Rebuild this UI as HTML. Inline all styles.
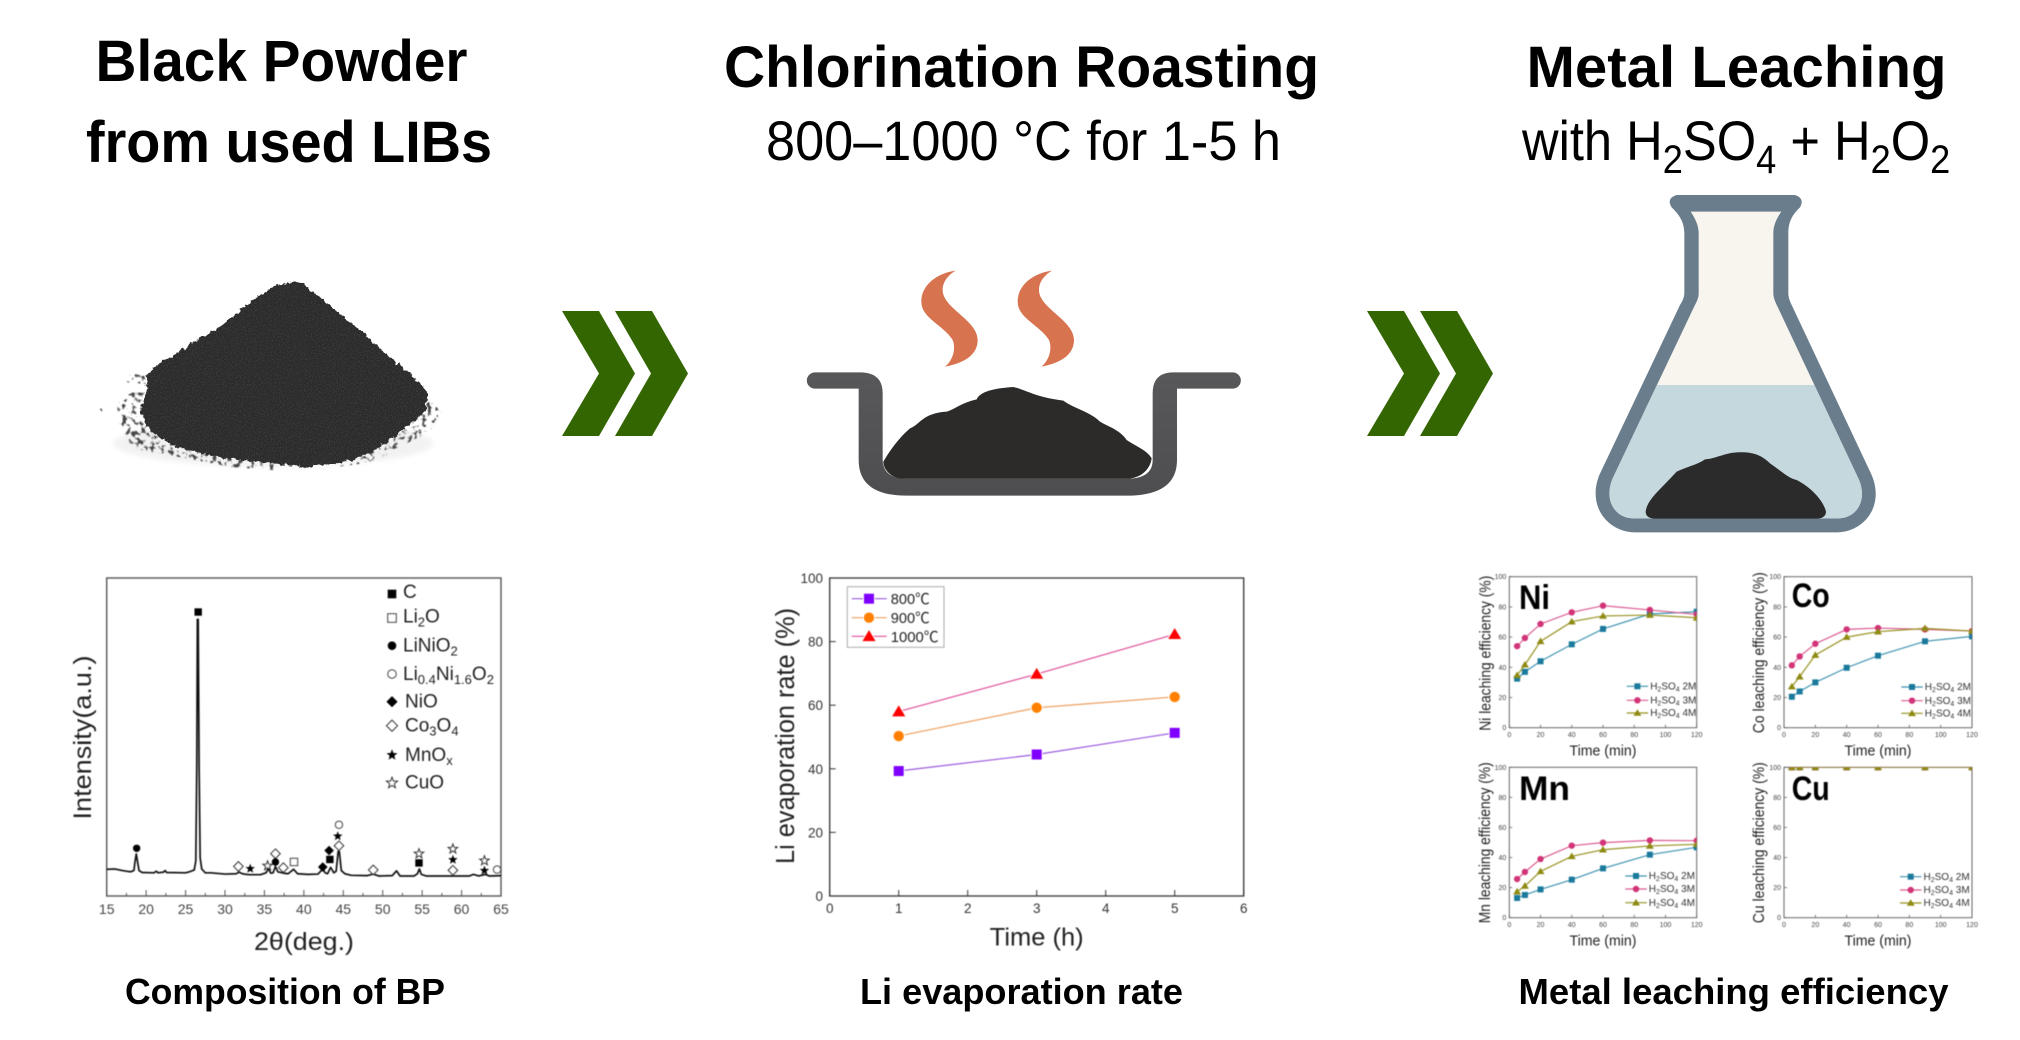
<!DOCTYPE html>
<html lang="en">
<head>
<meta charset="utf-8">
<title>Black powder chlorination roasting and metal leaching</title>
<style>
html,body{margin:0;padding:0;background:#fff;}
svg{display:block;}
text{font-family:"Liberation Sans","Noto Sans CJK SC",sans-serif;fill:#000;}
.soft{filter:blur(.45px);}
</style>
</head>
<body>
<svg id="figure" xmlns="http://www.w3.org/2000/svg" width="2020" height="1040" viewBox="0 0 2020 1040">
<defs>
<filter id="grain" x="-5%" y="-5%" width="110%" height="110%" color-interpolation-filters="sRGB">
<feTurbulence type="fractalNoise" baseFrequency="0.07" numOctaves="3" seed="4" result="edge"/>
<feDisplacementMap in="SourceGraphic" in2="edge" scale="20" xChannelSelector="R" yChannelSelector="G" result="shape"/>
<feTurbulence type="fractalNoise" baseFrequency="0.28" numOctaves="3" seed="9" result="n"/>
<feColorMatrix in="n" type="matrix" values="0 0 0 0 .36  0 0 0 0 .36  0 0 0 0 .36  1.5 0 0 0 -.68" result="specks"/>
<feComposite in="specks" in2="shape" operator="in" result="clipped"/>
<feMerge><feMergeNode in="shape"/><feMergeNode in="clipped"/></feMerge>
</filter>
<filter id="dust" x="-10%" y="-20%" width="120%" height="140%"><feGaussianBlur stdDeviation="7"/></filter>
<filter id="debris-soft" x="-5%" y="-5%" width="110%" height="110%" color-interpolation-filters="sRGB">
<feTurbulence type="fractalNoise" baseFrequency="0.07" numOctaves="2" seed="3" result="n"/>
<feColorMatrix in="n" type="matrix" values="0 0 0 0 0  0 0 0 0 0  0 0 0 0 0  7 0 0 0 -3.7" result="m"/>
<feComposite in="SourceGraphic" in2="m" operator="in" result="s"/>
<feGaussianBlur in="s" stdDeviation="1.6"/>
</filter>
<linearGradient id="pot-metal" x1="0" y1="0" x2="0" y2="1"><stop offset="0" stop-color="#58585a"/><stop offset="1" stop-color="#4e4e50"/></linearGradient>
<clipPath id="liquid-clip"><rect x="0" y="645" width="1020" height="500"/></clipPath>
</defs>
<rect width="2020" height="1040" fill="#fff"/>

<g>
<text x="95.500" y="81" font-size="58" font-weight="700" textLength="372" lengthAdjust="spacingAndGlyphs">Black Powder</text>
<text x="86" y="162" font-size="58" font-weight="700" textLength="406" lengthAdjust="spacingAndGlyphs">from used LIBs</text>
<text x="724" y="87" font-size="58" font-weight="700" textLength="595" lengthAdjust="spacingAndGlyphs">Chlorination Roasting</text>
<text x="766" y="160" font-size="56" textLength="515" lengthAdjust="spacingAndGlyphs">800–1000 °C for 1-5 h</text>
<text x="1526.500" y="87" font-size="58" font-weight="700" textLength="420" lengthAdjust="spacingAndGlyphs">Metal Leaching</text>
<text transform="translate(1522,160) scale(.905,1)" font-size="56">with H<tspan font-size="40" dy="13">2</tspan><tspan dy="-13">SO</tspan><tspan font-size="40" dy="13">4</tspan><tspan dy="-13"> + H</tspan><tspan font-size="40" dy="13">2</tspan><tspan dy="-13">O</tspan><tspan font-size="40" dy="13">2</tspan></text>
</g>

<g transform="translate(60,240) scale(.33333)">
<ellipse cx="640" cy="610" rx="480" ry="70" fill="#e6e6e6" opacity=".5" filter="url(#dust)"/>
<g fill="#444" filter="url(#debris-soft)">
<path d="M170,490 L260,450 L300,600 L500,650 L640,670 L640,690 L520,682 L380,655 L215,625 L180,560Z"/>
<path d="M760,690 L880,670 L1040,560 L1110,480 L1145,518 L1110,575 L1010,625 L950,665Z"/>
<path d="M190,420 L215,400 L262,410 L262,432 L205,428Z"/>
<path d="M195,460 L262,450 L262,480 L215,470Z"/>
<path d="M118,505 L142,510 L128,518Z"/>
</g>
<path filter="url(#grain)" fill="#2a2a2a" d="M700,124 L640,140 L580,180 L480,260 L340,345 L295,372 L258,405 L262,450 L250,480 L240,510 Q250,545 270,570 Q320,610 380,630 Q440,648 500,655 L640,670 L730,680 Q800,678 860,665 Q910,650 950,625 Q1000,595 1040,560 L1095,515 L1105,460 L1060,410 L1000,360 L900,270 L800,190 L730,130Z"/>
</g>

<g transform="translate(780,240) scale(.33333)">
<path fill="#d8734f" d="M527,92 C470,100 424,135 424,185 C424,235 490,255 518,300 C530,330 515,365 495,380 C560,368 593,340 593,300 C593,240 488,205 488,150 C488,125 505,105 527,92Z"/>
<path fill="#d8734f" transform="translate(289,0)" d="M527,92 C470,100 424,135 424,185 C424,235 490,255 518,300 C530,330 515,365 495,380 C560,368 593,340 593,300 C593,240 488,205 488,150 C488,125 505,105 527,92Z"/>
<path fill="url(#pot-metal)" d="M105,397 H240 Q308,397 308,460 V660 Q310,716 380,716 H1040 Q1118,716 1118,660 V460 Q1118,397 1180,397 H1358 A24.500,24.500 0 0 1 1358,446 H1191 V660 Q1191,767 1040,767 H380 Q236,767 236,660 V446 H105 A24.500,24.500 0 0 1 105,397Z"/>
<path fill="#2d2b29" d="M310,665 C330,630 360,590 390,565 C420,555 425,520 500,515 C530,505 540,490 590,478 C600,455 640,445 700,441 C740,450 760,470 850,482 C880,505 930,515 960,545 C985,560 1020,570 1040,600 C1070,620 1100,630 1115,655 C1110,690 1080,716 1040,716 H370 C335,716 310,690 310,665Z"/>
</g>

<g transform="translate(1580,170) scale(.33333)">
<path fill="#6a7d8c" d="M290,75 H645 Q675,85 660,112 C630,140 625,165 625,190 V370 Q625,385 635,405 L875,915 C915,1010 850,1087 770,1087 H165 C85,1087 20,1010 58,915 L300,405 Q313,385 313,370 V190 C313,165 305,140 275,112 Q258,85 290,75Z"/>
<path fill="#f8f5ef" d="M332,125 H604 C590,145 580,165 580,190 V370 C580,385 588,400 595,415 L835,925 C865,990 830,1045 775,1045 H160 C105,1045 70,990 98,925 L340,415 C350,395 356,385 356,370 V190 C356,165 345,145 332,125Z"/>
<path fill="#c5d8de" clip-path="url(#liquid-clip)" d="M332,125 H604 C590,145 580,165 580,190 V370 C580,385 588,400 595,415 L835,925 C865,990 830,1045 775,1045 H160 C105,1045 70,990 98,925 L340,415 C350,395 356,385 356,370 V190 C356,165 345,145 332,125Z"/>
<path fill="#2b2b2b" d="M197,1025 C200,990 240,960 290,905 C320,890 350,885 375,868 C410,865 430,850 470,847 C510,845 540,850 570,880 C600,900 625,925 650,930 C690,950 730,990 738,1025 C738,1040 725,1046 710,1046 H225 C210,1046 197,1040 197,1025Z"/>
</g>

<g fill="#336600">
<polygon points="562,311 599,311 635,373.500 599,436 562,436 599,373.500"/>
<polygon points="615,311 652,311 688,373.500 652,436 615,436 651,373.500"/>
</g>
<g fill="#336600" transform="translate(805,0)">
<polygon points="562,311 599,311 635,373.500 599,436 562,436 599,373.500"/>
<polygon points="615,311 652,311 688,373.500 652,436 615,436 651,373.500"/>
</g>

<g>
<text x="125" y="1004" font-size="36" font-weight="700" textLength="320" lengthAdjust="spacingAndGlyphs">Composition of BP</text>
<text x="860" y="1004" font-size="36" font-weight="700" textLength="323" lengthAdjust="spacingAndGlyphs">Li evaporation rate</text>
<text x="1518.500" y="1004" font-size="36" font-weight="700" textLength="430" lengthAdjust="spacingAndGlyphs">Metal leaching efficiency</text>
</g>

<g id="xrd-chart" class="soft"></g>
<g id="evap-chart" class="soft"></g>
<g id="leach-charts" class="soft"></g>
</svg>

<script>
/* ---------- XRD data ---------- */
const xrdTicks = [15,20,25,30,35,40,45,50,55,60,65];
const xrdTheta = [15,16,17,18,18.45,18.6,18.75,18.9,19.1,19.5,21,21.3,21.5,22.2,22.4,22.6,25,25.6,26.1,26.3,26.42,26.5,26.6,26.72,26.85,27.05,27.5,28.2,30,31.4,31.8,32.2,33,34.5,35.2,35.5,35.8,36.1,36.4,36.7,37.4,38,38.7,39.2,40.5,41.8,42.4,42.7,43,43.4,43.8,44.1,44.35,44.5,44.75,45.2,46,48,48.8,49.5,51.2,51.75,52.2,54,54.4,54.65,54.9,55.5,57.5,59,61,61.5,62.2,63,63.5,65];
const xrdIntensity = [8.4,8.5,8,7.6,8,11,13.2,11,8,7.4,7.3,7.8,7.3,7.5,8,7.4,7.3,7.7,8.2,11,40,87,87,40,12,8.5,7.3,7.3,6.9,7,7.5,7,6.7,6.7,7.3,8.6,7.2,7.3,9.3,7.6,7.2,7,8.4,7,6.8,6.9,8.5,7.3,7,9,7.3,7.8,14,14,8,7,6.5,6.4,6.9,6.3,6.4,7.9,6.3,6.3,7,8.5,6.8,6.3,6.3,6.3,6.3,6.8,6.3,6.8,6.3,6.4];
const xrdMarkerTheta = [26.6,18.8,31.7,33.2,35.4,36.4,36.4,37.4,38.75,42.4,43.2,43.3,44.45,44.3,44.45,48.8,54.6,54.6,58.9,58.9,58.9,62.9,62.9,64.5];
const xrdMarkerIntensity = [89.3,15,9.3,8.6,9.5,13.3,10.7,8.9,10.7,9.1,14.3,11.5,22.4,18.8,15.8,8.2,13.3,10.4,14.8,11.4,8.1,11.1,8,8.3];
const xrdMarkerPhase = ['C','LiNiO2','Co3O4','MnOx','CuO','Co3O4','LiNiO2','Co3O4','Li2O','NiO','NiO','C','Li0.4Ni1.6O2','MnOx','Co3O4','Co3O4','CuO','C','CuO','MnOx','Co3O4','CuO','MnOx','Li0.4Ni1.6O2'];

/* ---------- Li evaporation data ---------- */
const evapTime = [1,3,5];
const evap800 = [39.3,44.5,51.3];
const evap900 = [50.3,59.2,62.6];
const evap1000 = [58,69.8,82.3];
const evapXTicks = [0,1,2,3,4,5,6];
const evapYTicks = [0,20,40,60,80,100];
const evapLabels = ['800℃','900℃','1000℃'];

/* ---------- Leaching data ---------- */
const leachTime = [5,10,20,40,60,90,120];
const ni2M = [32.5,37,44,55.2,65.4,75.3,76.8];
const ni3M = [54,59.4,68.7,76.4,80.8,78,75];
const ni4M = [34.7,41.7,57.2,70.2,74,74.6,72.8];
const co2M = [20.5,24,30,39.7,47.7,57.2,60.5];
const co3M = [41.3,47.2,55.6,65.1,66,65.1,64];
const co4M = [27.2,33.8,48.1,60,63.6,65.8,64];
const mn2M = [13.1,15.1,18.8,25.3,32.8,41.9,46.8];
const mn3M = [25.7,30.4,39,47.9,49.9,51.4,51.2];
const mn4M = [17.3,21.1,30.8,40.8,45.2,47.7,48.8];
const cu2M = [100,100,100,100,100,100,100];
const cu3M = [100,100,100,100,100,100,100];
const cu4M = [100,100,100,100,100,100,100];
const leachXTicks = [0,20,40,60,80,100,120];
const leachYTicks = [0,20,40,60,80,100];
const leachConc = ['2M','3M','4M'];

const NS = 'http://www.w3.org/2000/svg';
function mk(tag, attrs, parent) {
  const e = document.createElementNS(NS, tag);
  for (const k in attrs) e.setAttribute(k, attrs[k]);
  parent.appendChild(e);
  return e;
}
function starPts(cx, cy, r) {
  const p = [];
  for (let i = 0; i < 10; i++) {
    const rr = i % 2 ? r * 0.42 : r;
    const a = -Math.PI / 2 + i * Math.PI / 5;
    p.push((cx + rr * Math.cos(a)).toFixed(2) + ',' + (cy + rr * Math.sin(a)).toFixed(2));
  }
  return p.join(' ');
}
function shape(kind, cx, cy, r, style, parent) {
  if (kind === 'square') return mk('rect', Object.assign({x: cx - r, y: cy - r, width: 2 * r, height: 2 * r}, style), parent);
  if (kind === 'circle') return mk('circle', Object.assign({cx: cx, cy: cy, r: r}, style), parent);
  if (kind === 'triangle') return mk('polygon', Object.assign({points: (cx) + ',' + (cy - r * 1.15) + ' ' + (cx + r * 1.2) + ',' + (cy + r * 0.85) + ' ' + (cx - r * 1.2) + ',' + (cy + r * 0.85)}, style), parent);
  if (kind === 'diamond') return mk('polygon', Object.assign({points: cx + ',' + (cy - r * 1.3) + ' ' + (cx + r * 1.3) + ',' + cy + ' ' + cx + ',' + (cy + r * 1.3) + ' ' + (cx - r * 1.3) + ',' + cy}, style), parent);
  return mk('polygon', Object.assign({points: starPts(cx, cy, r * 1.35)}, style), parent);
}
const phaseStyle = {
  'C': ['square', '#000', 'none'],
  'Li2O': ['square', '#fff', '#444'],
  'LiNiO2': ['circle', '#000', 'none'],
  'Li0.4Ni1.6O2': ['circle', '#fff', '#444'],
  'NiO': ['diamond', '#000', 'none'],
  'Co3O4': ['diamond', '#fff', '#333'],
  'MnOx': ['star', '#000', 'none'],
  'CuO': ['star', '#fff', '#333']
};

/* ---------- XRD chart ---------- */
(function () {
  const g = document.getElementById('xrd-chart');
  const L = 106.7, R = 501, T = 578, B = 896;
  const sx = v => L + (v - 15) / 50 * (R - L);
  const sy = v => B - v / 100 * (B - T);
  const frame = mk('rect', {x: L, y: T, width: R - L, height: B - T, fill: '#fff', stroke: '#555', 'stroke-width': 1.4}, g);
  
  
  for (let v = 17.5; v <= 62.5; v += 5) {
    const m = mk('line', {x1: sx(v), x2: sx(v), y1: B, y2: B - 3, stroke: '#555', 'stroke-width': 1}, g);
    
    
  }
  xrdTicks.forEach(v => {
    const t = mk('line', {x1: sx(v), x2: sx(v), y1: B, y2: B - 6, stroke: '#555', 'stroke-width': 1}, g);
    
    
    const l = mk('text', {x: sx(v), y: 914, 'font-size': 14, 'text-anchor': 'middle', style: 'fill:#444'}, g);
    
    
    l.textContent = v;
  });
  const d = xrdTheta.map((v, i) => (i ? 'L' : 'M') + sx(v).toFixed(2) + ',' + sy(xrdIntensity[i]).toFixed(2)).join(' ');
  const line = mk('path', {d: d, fill: 'none', stroke: '#111', 'stroke-width': 1.7, 'stroke-linejoin': 'round'}, g);
  
  
  xrdMarkerTheta.forEach((v, i) => {
    const s = phaseStyle[xrdMarkerPhase[i]];
    const m = shape(s[0], sx(v), sy(xrdMarkerIntensity[i]), 3.7, {fill: s[1], stroke: s[2], 'stroke-width': 1}, g);
    
    
  });
  const xt = mk('text', {x: 304, y: 950, 'font-size': 25, 'text-anchor': 'middle', textLength: 100, lengthAdjust: 'spacingAndGlyphs', style: 'fill:#222'}, g);
  
  
  xt.textContent = '2θ(deg.)';
  const yt = mk('text', {transform: 'translate(91,819.5) rotate(-90)', 'font-size': 25, textLength: 164, lengthAdjust: 'spacingAndGlyphs', style: 'fill:#222'}, g);
  
  
  yt.textContent = 'Intensity(a.u.)';
  const sub = (c) => '<tspan font-size="13" dy="4">' + c + '</tspan><tspan dy="-4">\u200b</tspan>';
  const legend = [
    ['C', 392, 594, 403, 'C', 598],
    ['Li2O', 392, 618, 403, 'Li' + sub('2') + 'O', 622.7],
    ['LiNiO2', 392, 645.7, 403, 'LiNiO' + sub('2'), 651.7],
    ['Li0.4Ni1.6O2', 392, 674, 403, 'Li' + sub('0.4') + 'Ni' + sub('1.6') + 'O' + sub('2'), 680],
    ['NiO', 392, 701.7, 405, 'NiO', 707.7],
    ['Co3O4', 392, 725.7, 405, 'Co' + sub('3') + 'O' + sub('4'), 731.7],
    ['MnOx', 392, 755, 405, 'MnO' + sub('x'), 761],
    ['CuO', 392, 783, 405, 'CuO', 788.7]
  ];
  legend.forEach(e => {
    const s = phaseStyle[e[0]];
    const m = shape(s[0], e[1], e[2], 4.3, {fill: s[1], stroke: s[2], 'stroke-width': 1}, g);
    
    
    const t = mk('text', {x: e[3], y: e[5], 'font-size': 19, style: 'fill:#222'}, g);
    
    
    t.innerHTML = e[4];
  });
})();

/* ---------- Li evaporation chart ---------- */
(function () {
  const g = document.getElementById('evap-chart');
  const L = 829.7, R = 1243.7, T = 578, B = 896;
  const sx = v => L + v / 6 * (R - L);
  const sy = v => B - v / 100 * (B - T);
  const frame = mk('rect', {x: L, y: T, width: R - L, height: B - T, fill: '#fff', stroke: '#333', 'stroke-width': 1.3}, g);
  
  
  evapXTicks.forEach(v => {
    const t = mk('line', {x1: sx(v), x2: sx(v), y1: B, y2: B - 6, stroke: '#333', 'stroke-width': 1}, g);
    
    
    const l = mk('text', {x: sx(v), y: 913, 'font-size': 13.5, 'text-anchor': 'middle', style: 'fill:#333'}, g);
    
    
    l.textContent = v;
  });
  evapYTicks.forEach(v => {
    const t = mk('line', {x1: L, x2: L + 6, y1: sy(v), y2: sy(v), stroke: '#333', 'stroke-width': 1}, g);
    
    
    const l = mk('text', {x: 823, y: sy(v) + 5, 'font-size': 13.5, 'text-anchor': 'end', style: 'fill:#333'}, g);
    
    
    l.textContent = v;
  });
  const series = [
    [evap800, 'square', '#8000ff', '#9c5ae0', 5.5],
    [evap900, 'circle', '#ff8000', '#eea060', 5.7],
    [evap1000, 'triangle', '#ff0000', '#e0509a', 6.2]
  ];
  series.forEach((s, k) => {
    const d = evapTime.map((v, i) => (i ? 'L' : 'M') + sx(v).toFixed(2) + ',' + sy(s[0][i]).toFixed(2)).join(' ');
    const p = mk('path', {d: d, fill: 'none', stroke: s[3], 'stroke-width': 1.2}, g);
    
    
    evapTime.forEach((v, i) => {
      const m = shape(s[1], sx(v), sy(s[0][i]), s[4], {fill: s[2], stroke: '#fff', 'stroke-width': 1}, g);
      
      
    });
  });
  const box = mk('rect', {x: 847.3, y: 586.7, width: 96.7, height: 60.6, fill: '#fff', stroke: '#aaa', 'stroke-width': 1}, g);
  
  
  const legendY = [598.7, 617.7, 636.3];
  evapLabels.forEach((lab, k) => {
    const s = series[k];
    const ln = mk('line', {x1: 851.7, x2: 886.7, y1: legendY[k], y2: legendY[k], stroke: s[3], 'stroke-width': 1.2}, g);
    
    
    const m = shape(s[1], 869, legendY[k], s[4], {fill: s[2], stroke: '#fff', 'stroke-width': 1}, g);
    
    
    const t = mk('text', {x: 890.7, y: legendY[k] + 5.5, 'font-size': 15, textLength: k === 2 ? 48 : 39, lengthAdjust: 'spacingAndGlyphs', style: 'fill:#222'}, g);
    
    
    t.textContent = lab;
  });
  const xt = mk('text', {x: 1036.7, y: 945.7, 'font-size': 25, 'text-anchor': 'middle', textLength: 94, lengthAdjust: 'spacingAndGlyphs', style: 'fill:#222'}, g);
  
  
  xt.textContent = 'Time (h)';
  const yt = mk('text', {transform: 'translate(794,864) rotate(-90)', 'font-size': 25.5, textLength: 256, lengthAdjust: 'spacingAndGlyphs', style: 'fill:#222'}, g);
  
  
  yt.textContent = 'Li evaporation rate (%)';
})();

/* ---------- Leaching panels ---------- */
function drawPanel(cfg) {
  const root = document.getElementById('leach-charts');
  const g = mk('g', {}, root);
  
  
  const L = cfg.L, R = cfg.R, T = cfg.T, B = cfg.B;
  const sx = v => L + v / 120 * (R - L);
  const sy = v => B - v / 100 * (B - T);
  const clip = mk('clipPath', {id: 'clip-' + cfg.key}, g);
  mk('rect', {x: L, y: T, width: R - L, height: B - T}, clip);
  const frame = mk('rect', {x: L, y: T, width: R - L, height: B - T, fill: '#fff', stroke: '#666', 'stroke-width': 1}, g);
  
  
  leachXTicks.forEach(v => {
    const t = mk('line', {x1: sx(v), x2: sx(v), y1: B, y2: B - 3, stroke: '#666', 'stroke-width': .8}, g);
    
    
    const l = mk('text', {x: sx(v), y: B + 9.5, 'font-size': 7, 'text-anchor': 'middle', style: 'fill:#444'}, g);
    
    
    l.textContent = v;
  });
  leachYTicks.forEach(v => {
    const t = mk('line', {x1: L, x2: L + 3, y1: sy(v), y2: sy(v), stroke: '#666', 'stroke-width': .8}, g);
    
    
    const l = mk('text', {x: L - 3, y: sy(v) + 2.5, 'font-size': 7, 'text-anchor': 'end', style: 'fill:#444'}, g);
    
    
    l.textContent = v;
  });
  const styles = [['square', '#1b7a9c', '#3f93b0', 3], ['circle', '#d23478', '#dc5c92', 3.2], ['triangle', '#8e8a12', '#96921f', 3.3]];
  const plot = mk('g', {'clip-path': 'url(#clip-' + cfg.key + ')'}, g);
  
  
  cfg.series.forEach((vals, k) => {
    const st = styles[k];
    const d = leachTime.map((v, i) => (i ? 'L' : 'M') + sx(v).toFixed(2) + ',' + sy(vals[i]).toFixed(2)).join(' ');
    const p = mk('path', {d: d, fill: 'none', stroke: st[2], 'stroke-width': 1.2}, plot);
    
    
    leachTime.forEach((v, i) => {
      const m = shape(st[0], sx(v), sy(vals[i]), st[3], {fill: st[1]}, plot);
      
      
    });
  });
  leachConc.forEach((c, k) => {
    const st = styles[k];
    const y = cfg.legY[k];
    const ln = mk('line', {x1: cfg.legX, x2: cfg.legX + 21.5, y1: y, y2: y, stroke: st[2], 'stroke-width': 1.2}, g);
    
    
    const m = shape(st[0], cfg.legX + 10.7, y, st[3], {fill: st[1]}, g);
    
    
    const t = mk('text', {x: cfg.legX + 23.5, y: y + 3.2, 'font-size': 10, style: 'fill:#333'}, g);
    
    
    t.innerHTML = 'H<tspan font-size="7" dy="2">2</tspan><tspan dy="-2">SO</tspan><tspan font-size="7" dy="2">4</tspan><tspan dy="-2"> ' + c + '</tspan>';
  });
  const big = mk('text', {x: cfg.labX, y: cfg.labY, 'font-size': 34, 'font-weight': 700, textLength: cfg.labW, lengthAdjust: 'spacingAndGlyphs'}, g);
  
  
  big.textContent = cfg.label;
  const xt = mk('text', {x: (L + R) / 2, y: B + 28, 'font-size': 15, 'text-anchor': 'middle', textLength: 67, lengthAdjust: 'spacingAndGlyphs', style: 'fill:#222'}, g);
  
  
  xt.textContent = 'Time (min)';
  const yt = mk('text', {transform: 'translate(' + cfg.yTitleX + ',' + (B + cfg.yTitleOff) + ') rotate(-90)', 'font-size': 15.5, textLength: cfg.yTitleLen, lengthAdjust: 'spacingAndGlyphs', style: 'fill:#222'}, g);
  
  
  yt.textContent = cfg.label + ' leaching efficiency (%)';
}
drawPanel({key: 'ni', label: 'Ni', L: 1509.3, R: 1696.7, T: 576.7, B: 727.7, series: [ni2M, ni3M, ni4M], legX: 1626.7, legY: [686.3, 700.3, 713], labX: 1519, labY: 609, labW: 31, yTitleX: 1490.7, yTitleLen: 155, yTitleOff: 3});
drawPanel({key: 'co', label: 'Co', L: 1784, R: 1972, T: 576.7, B: 727.7, series: [co2M, co3M, co4M], legX: 1901.3, legY: [687, 700.7, 713.3], labX: 1791.7, labY: 607, labW: 38, yTitleX: 1764, yTitleLen: 161, yTitleOff: 5.5});
drawPanel({key: 'mn', label: 'Mn', L: 1509.3, R: 1696.7, T: 767.3, B: 917.7, series: [mn2M, mn3M, mn4M], legX: 1625.3, legY: [876, 889, 902.7], labX: 1519, labY: 800, labW: 51, yTitleX: 1490, yTitleLen: 161, yTitleOff: 5.5});
drawPanel({key: 'cu', label: 'Cu', L: 1784, R: 1972, T: 767.3, B: 917.7, series: [cu2M, cu3M, cu4M], legX: 1900, legY: [876.7, 890, 903], labX: 1791.7, labY: 800, labW: 38, yTitleX: 1764, yTitleLen: 161, yTitleOff: 5.5});
</script>
</body>
</html>
